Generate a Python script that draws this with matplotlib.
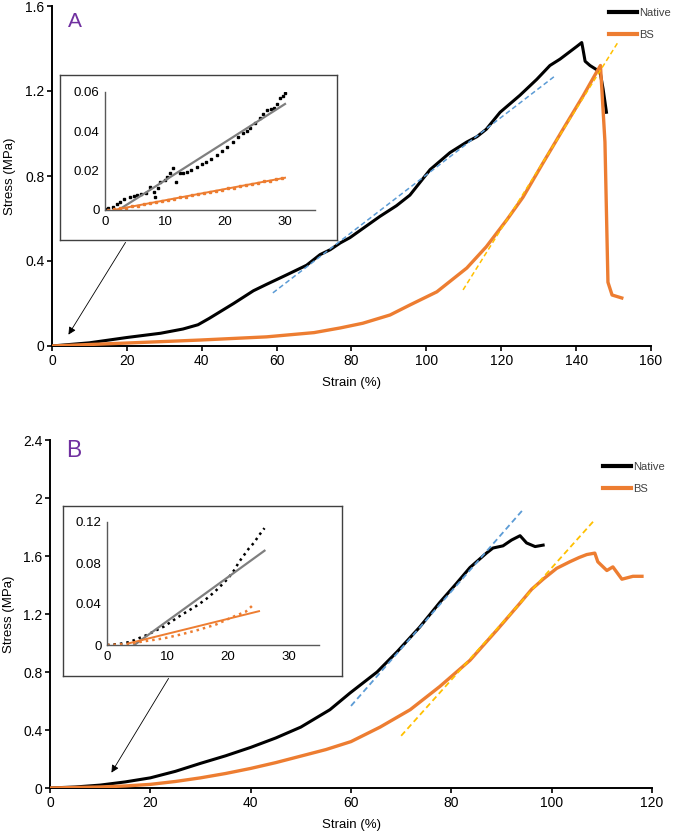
import matplotlib
matplotlib.use("Agg")
import matplotlib.pyplot as plt
from matplotlib.lines import Line2D

plt.rcParams['font.family'] = ['Liberation Sans', 'DejaVu Sans']

NEGRO = 'black'
NARANJA = '#ED7D31'
AZUL = '#5B9BD5'
AMARILLO = '#FFC000'
GRIS = '#7F7F7F'
MORADO = '#7030A0'

# ---- Panel A: curvas principales ----
a_nat_x = [0, 10, 20, 29, 35, 39, 42, 48.5, 53.8, 57.3, 62.7, 68, 71.6, 74.3, 77, 79.6, 87.6,
           92, 95.6, 101, 106.3, 110.8, 113.5, 116, 119.7, 125, 129.5, 133, 135.7, 140.2,
           141.5, 141.8, 142.4, 143.7, 145.5, 146.4, 147.2, 148.1]
a_nat_y = [0, 0.015, 0.04, 0.06, 0.08, 0.1, 0.13, 0.2, 0.26, 0.29, 0.335, 0.38, 0.43, 0.453,
           0.485, 0.51, 0.61, 0.66, 0.71, 0.83, 0.91, 0.96, 0.985, 1.02, 1.10, 1.18, 1.255, 1.32,
           1.35, 1.41, 1.428, 1.40, 1.34, 1.32, 1.30, 1.29, 1.21, 1.10]
a_bs_x = [0, 20, 39.5, 57.3, 70, 77, 83, 90.3, 95.6, 102.8, 110.8, 116, 121.5, 125.8, 131.1,
          136.5, 141.8, 145.5, 146.5, 147.7, 148.5, 149.6, 152.2]
a_bs_y = [0, 0.014, 0.028, 0.043, 0.063, 0.085, 0.107, 0.146, 0.193, 0.255, 0.367, 0.467,
          0.594, 0.70, 0.86, 1.02, 1.175, 1.29, 1.32, 0.96, 0.30, 0.24, 0.226]
a_fit_nat_x = [59, 134.3]
a_fit_nat_y = [0.25, 1.27]
a_fit_bs_x = [109.8, 151.2]
a_fit_bs_y = [0.264, 1.43]

# ---- Panel A: recuadro ----
ia_nat_x = [0, 0.55, 1.4, 2, 2.5, 3.2, 4.2, 4.8, 5.3, 6, 6.9, 7.5, 8.1, 8.4, 8.8, 9.2, 10, 10.4,
            10.8, 11.4, 11.9, 12.5, 13, 13.6, 14.4, 15.3, 16.1, 16.9, 17.7, 18.6, 19.5, 20.3,
            21.4, 22.2, 23, 23.6, 24.2, 25, 25.8, 26.4, 27, 27.6, 28.1, 28.7, 29.2, 29.6, 30]
ia_nat_y = [0.0005, 0.0009, 0.0017, 0.003, 0.0042, 0.0055, 0.0068, 0.007, 0.0076, 0.008,
            0.0085, 0.0119, 0.0093, 0.0068, 0.011, 0.0144, 0.0153, 0.017, 0.0186, 0.0212,
            0.0144, 0.0186, 0.019, 0.0195, 0.0205, 0.022, 0.0232, 0.0246, 0.026, 0.028, 0.030,
            0.0322, 0.0347, 0.037, 0.039, 0.040, 0.0415, 0.044, 0.0466, 0.049, 0.0508, 0.0512,
            0.0517, 0.054, 0.0568, 0.058, 0.0593]
ia_bs_x = [0.5, 1.5, 2.5, 3.5, 4.5, 5.5, 6.5, 7.5, 8.5, 9.5, 10.5, 11.5, 12.5, 13.5, 14.5, 15.5,
           16.5, 17.5, 18.5, 19.5, 20.5, 21.5, 22.5, 23.5, 24.5, 25.5, 26.5, 27.5, 28.5, 29.5]
ia_bs_y = [0.0002, 0.0003, 0.0009, 0.0011, 0.0019, 0.0022, 0.0031, 0.0034, 0.0041, 0.0045,
           0.0053, 0.0057, 0.0064, 0.0068, 0.0076, 0.0080, 0.0087, 0.0091, 0.0099, 0.0103,
           0.0110, 0.0114, 0.0122, 0.0126, 0.0133, 0.0137, 0.0145, 0.0149, 0.0156, 0.0161]
ia_fit_nat_x = [2.5, 30]
ia_fit_nat_y = [0.0005, 0.0539]
ia_fit_bs_x = [1.4, 30]
ia_fit_bs_y = [0.0, 0.0164]

# ---- Panel B: curvas principales ----
b_nat_x = [0, 5, 10, 15, 20, 25, 30, 35, 40, 45, 50, 55.8, 59.8, 65.2, 69.2, 73.7, 77.7, 81,
           83.7, 87, 88.3, 90.3, 92, 93.7, 95, 96.7, 98.3]
b_nat_y = [0, 0.007, 0.02, 0.042, 0.07, 0.115, 0.17, 0.222, 0.28, 0.345, 0.42, 0.54, 0.655,
           0.80, 0.94, 1.11, 1.28, 1.41, 1.52, 1.62, 1.655, 1.67, 1.71, 1.74, 1.69, 1.665, 1.675]
b_bs_x = [0, 10, 15, 20, 25, 30, 35, 40, 45, 50, 55, 60, 65.8, 71.8, 77.7, 83.7, 89.1, 93.7,
          96, 98.3, 101, 103.6, 105.5, 107, 108.6, 109.2, 111, 112.2, 114, 116.2, 118]
b_bs_y = [0, 0.007, 0.014, 0.025, 0.045, 0.07, 0.1, 0.135, 0.175, 0.22, 0.265, 0.32, 0.42,
          0.54, 0.70, 0.88, 1.09, 1.275, 1.37, 1.44, 1.515, 1.56, 1.59, 1.61, 1.62, 1.56, 1.50,
          1.525, 1.44, 1.46, 1.46]
b_fit_nat_x = [60, 94.3]
b_fit_nat_y = [0.566, 1.92]
b_fit_bs_x = [70, 108.6]
b_fit_bs_y = [0.36, 1.85]

# ---- Panel B: recuadro ----
ib_nat_x = [0, 2, 3.8, 5, 6.6, 8, 9.4, 10.8, 12.2, 13.6, 15, 16.4, 17.8, 19, 20, 21, 21.8,
            22.6, 23.4, 24.3, 25.1, 26]
ib_nat_y = [0, 0.001, 0.003, 0.006, 0.0098, 0.014, 0.018, 0.0235, 0.029, 0.034, 0.039, 0.045,
            0.052, 0.059, 0.065, 0.073, 0.081, 0.0875, 0.094, 0.1, 0.107, 0.114]
ib_bs_x = [0, 2, 3.5, 6, 9.4, 12, 15, 18, 20.6, 22.9, 24.3]
ib_bs_y = [0, 0.0005, 0.001, 0.0035, 0.0065, 0.010, 0.0146, 0.020, 0.027, 0.0325, 0.040]
ib_fit_nat_x = [4.5, 26]
ib_fit_nat_y = [0.0, 0.092]
ib_fit_bs_x = [3.5, 25.1]
ib_fit_bs_y = [0.0015, 0.033]

W, H = 673, 833


def fr(x0, y0, x1, y1):
    # caja en pixeles (arriba-izquierda) -> fraccion de figura
    return [x0 / W, 1 - y1 / H, (x1 - x0) / W, (y1 - y0) / H]


def estilo_principal(ax, xmax, xstep, yticks, ylabels, ylab_x):
    for s in ['top', 'right']:
        ax.spines[s].set_visible(False)
    for s in ['left', 'bottom']:
        ax.spines[s].set_linewidth(1.4)
    ax.set_xlim(0, xmax)
    ax.set_ylim(0, yticks[-1])
    ax.set_xticks(range(0, xmax + 1, xstep))
    ax.set_yticks(yticks)
    ax.set_yticklabels(ylabels)
    ax.tick_params(direction='out', length=3.5, width=1.2, labelsize=10, pad=2)
    ax.set_xlabel('Strain (%)', fontsize=9.5)
    ax.set_ylabel('Stress (MPa)', fontsize=9.5)
    ax.xaxis.set_label_coords(0.5, -0.09)
    ax.yaxis.set_label_coords(ylab_x, 0.5)


def estilo_recuadro(ax, ylim, yticks, ylabels):
    for s in ['top', 'right']:
        ax.spines[s].set_visible(False)
    for s in ['left', 'bottom']:
        ax.spines[s].set_color('#595959')
        ax.spines[s].set_linewidth(1.0)
    ax.set_xlim(0, 35)
    ax.set_ylim(*ylim)
    ax.set_xticks([0, 10, 20, 30])
    ax.set_yticks(yticks)
    ax.set_yticklabels(ylabels)
    ax.tick_params(length=0, labelsize=9.5, pad=4)
    ax.patch.set_alpha(0)


def caja(fig, rect):
    bx = fig.add_axes(rect, zorder=3)
    bx.set_xticks([])
    bx.set_yticks([])
    for s in bx.spines.values():
        s.set_color('#404040')
        s.set_linewidth(1.0)
    return bx


fig = plt.figure(figsize=(W / 100, H / 100), dpi=100)

# ================= Panel A =================
axa = fig.add_axes(fr(52, 6, 651, 346))
axa.plot(a_nat_x, a_nat_y, color=NEGRO, lw=2.2, zorder=3)
axa.plot(a_bs_x, a_bs_y, color=NARANJA, lw=2.4, zorder=3)
axa.plot(a_fit_nat_x, a_fit_nat_y, color=AZUL, lw=1.1, dashes=(3.2, 2), zorder=4)
axa.plot(a_fit_bs_x, a_fit_bs_y, color=AMARILLO, lw=1.1, dashes=(3.2, 2), zorder=4)
estilo_principal(axa, 160, 20, [0, 0.4, 0.8, 1.2, 1.6], ['0', '0.4', '0.8', '1.2', '1.6'],
                 (16 - 52) / 599)
axa.legend(handles=[Line2D([], [], color=NEGRO, lw=3), Line2D([], [], color=NARANJA, lw=3)],
           labels=['Native', 'BS'], loc='upper left',
           bbox_to_anchor=(609 / W, 1 - 8 / H), bbox_transform=fig.transFigure,
           frameon=False, fontsize=8, handlelength=2.5, handletextpad=0.25,
           labelspacing=1.05, borderpad=0, borderaxespad=0, labelcolor='#404040')
fig.text(68 / W, 1 - 27 / H, 'A', fontsize=15, color=MORADO, va='baseline')

caja(fig, fr(60, 75, 337, 240))
ia = fig.add_axes(fr(105, 92, 315, 210), zorder=4)
ia.plot(ia_nat_x, ia_nat_y, 's', color=NEGRO, ms=1.6)
ia.plot(ia_fit_nat_x, ia_fit_nat_y, color=GRIS, lw=1.6)
ia.plot(ia_bs_x, ia_bs_y, 's', color=NARANJA, ms=1.6)
ia.plot(ia_fit_bs_x, ia_fit_bs_y, color=NARANJA, lw=1.4)
estilo_recuadro(ia, (0, 0.06), [0, 0.02, 0.04, 0.06], ['0', '0.02', '0.04', '0.06'])

fig.add_artist(matplotlib.patches.FancyArrowPatch(
    (127 / W, 1 - 240 / H), (67 / W, 1 - 337 / H), transform=fig.transFigure,
    arrowstyle='-|>', mutation_scale=11, color=NEGRO, lw=0.6))

# ================= Panel B =================
axb = fig.add_axes(fr(50, 440, 652, 788))
axb.plot(b_nat_x, b_nat_y, color=NEGRO, lw=2.2, zorder=3)
axb.plot(b_bs_x, b_bs_y, color=NARANJA, lw=2.4, zorder=3)
axb.plot(b_fit_nat_x, b_fit_nat_y, color=AZUL, lw=1.3, dashes=(3.2, 2), zorder=4)
axb.plot(b_fit_bs_x, b_fit_bs_y, color=AMARILLO, lw=1.3, dashes=(3.2, 2), zorder=4)
estilo_principal(axb, 120, 20, [0, 0.4, 0.8, 1.2, 1.6, 2.0, 2.4],
                 ['0', '0.4', '0.8', '1.2', '1.6', '2', '2.4'], (15 - 50) / 602)
axb.legend(handles=[Line2D([], [], color=NEGRO, lw=3), Line2D([], [], color=NARANJA, lw=3)],
           labels=['Native', 'BS'], loc='upper left',
           bbox_to_anchor=(603 / W, 1 - 462 / H), bbox_transform=fig.transFigure,
           frameon=False, fontsize=8, handlelength=2.5, handletextpad=0.25,
           labelspacing=1.05, borderpad=0, borderaxespad=0, labelcolor='#404040')
fig.text(66 / W, 1 - 457 / H, 'B', fontsize=16.5, color=MORADO, va='baseline')

caja(fig, fr(63, 506, 342, 676))
ib = fig.add_axes(fr(107, 522, 319, 645), zorder=4)
ib.plot(ib_nat_x, ib_nat_y, color=NEGRO, lw=1.8, ls=(0, (1, 1.6)))
ib.plot(ib_fit_nat_x, ib_fit_nat_y, color=GRIS, lw=1.6)
ib.plot(ib_bs_x, ib_bs_y, color=NARANJA, lw=1.8, ls=(0, (1, 1.6)))
ib.plot(ib_fit_bs_x, ib_fit_bs_y, color=NARANJA, lw=1.4)
estilo_recuadro(ib, (0, 0.12), [0, 0.04, 0.08, 0.12], ['0', '0.04', '0.08', '0.12'])

fig.add_artist(matplotlib.patches.FancyArrowPatch(
    (170 / W, 1 - 676 / H), (110 / W, 1 - 775 / H), transform=fig.transFigure,
    arrowstyle='-|>', mutation_scale=11, color=NEGRO, lw=0.6))

fig.savefig('out.png', dpi=100)
